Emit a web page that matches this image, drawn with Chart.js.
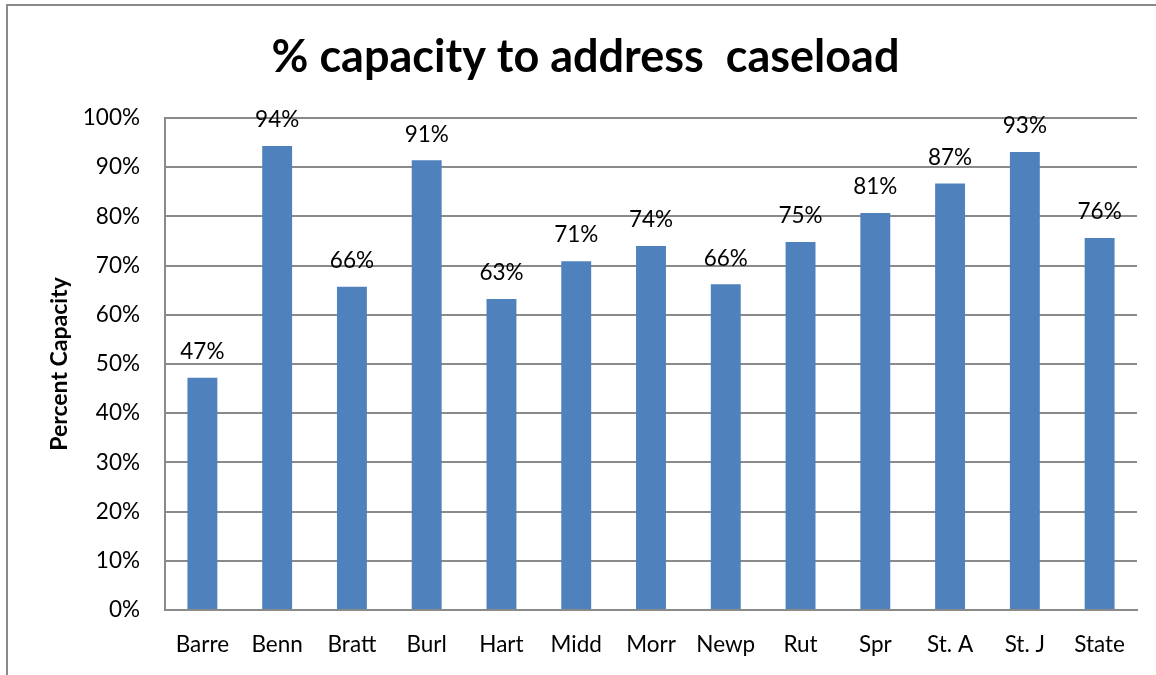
<!DOCTYPE html>
<html>
<head>
<meta charset="utf-8">
<script src="https://cdn.jsdelivr.net/npm/chart.js@4"></script>
<style>
  html, body { margin: 0; padding: 0; background: #fff; overflow: hidden; }
  #frame { position: absolute; left: 6px; top: 4px; width: 1160px; height: 700px; border: 2px solid #8a8a8a; }
  #wrap { position: absolute; left: 0; top: 0; width: 1156px; height: 675px; }
</style>
</head>
<body>
<div id="frame"></div>
<div id="wrap"><canvas id="myCanvasBarGraph"></canvas></div>
<script>
var offices = ['Barre', 'Benn', 'Bratt', 'Burl', 'Hart', 'Midd', 'Morr', 'Newp', 'Rut', 'Spr', 'St. A', 'St. J', 'State'];
var capacity = [47.2, 94.3, 65.7, 91.4, 63.2, 70.9, 74.0, 66.2, 74.8, 80.7, 86.7, 93.1, 75.6];
var yTicks = [0, 10, 20, 30, 40, 50, 60, 70, 80, 90, 100];

var fontName = 'Lato, "Open Sans", sans-serif';

// write the % value above each bar
var barLabels = {
	id: 'barLabels',
	afterDatasetsDraw: function(chart){
		var ctx = chart.ctx;
		var meta = chart.getDatasetMeta(0);
		ctx.save();
		ctx.fillStyle = '#000';
		ctx.font = '22.5px ' + fontName;
		ctx.textAlign = 'center';
		ctx.textBaseline = 'middle';
		meta.data.forEach(function(bar, i){
			ctx.fillText(Math.round(capacity[i]) + '%', bar.x, bar.y - 26);
		});
		ctx.restore();
	}
};

var chartdata = {
	labels: offices,
	datasets: [
		{
			label: '% capacity',
			backgroundColor: '#4f81bd',
			borderWidth: 0,
			barPercentage: 0.4,
			categoryPercentage: 1.0,
			data: capacity
		}
	]
};

var ctx = document.getElementById('myCanvasBarGraph');

var barGraph = new Chart(ctx, {
	type: 'bar',
	data: chartdata,
	plugins: [barLabels],
	options: {
		responsive: true,
		maintainAspectRatio: false,
		animation: false,
		layout: { padding: { left: 34, right: 19, top: 0, bottom: 0 } },
		plugins: {
			legend: { display: false },
			tooltip: { enabled: false },
			title: {
				display: true,
				text: '% capacity to address  caseload',
				color: '#000',
				font: { family: fontName, size: 45, weight: 'bold', lineHeight: 1.2 },
				padding: { top: 30, bottom: 34 }
			}
		},
		scales: {
			x: {
				grid: { display: false, drawTicks: false },
				border: { display: true, color: '#8a8a8a', width: 2 },
				ticks: { color: '#000', font: { family: fontName, size: 22.5 }, padding: 21, maxRotation: 0 },
				afterFit: function(scale){ scale.height = 65; }
			},
			y: {
				min: 0,
				max: 100,
				afterBuildTicks: function(scale){
					scale.ticks = yTicks.map(function(v){ return { value: v }; });
				},
				grid: { color: '#8a8a8a', lineWidth: 2, drawTicks: false },
				border: { display: true, color: '#8a8a8a', width: 2 },
				ticks: {
					color: '#000',
					font: { family: fontName, size: 22.5 },
					padding: 25,
					callback: function(v){ return v + '%'; }
				},
				title: {
					display: true,
					text: 'Percent Capacity',
					color: '#000',
					font: { family: fontName, size: 23, weight: 'bold' },
					padding: { top: 12, bottom: 0 }
				},
				afterFit: function(scale){ scale.width = 131; }
			}
		}
	}
});
</script>
</body>
</html>
